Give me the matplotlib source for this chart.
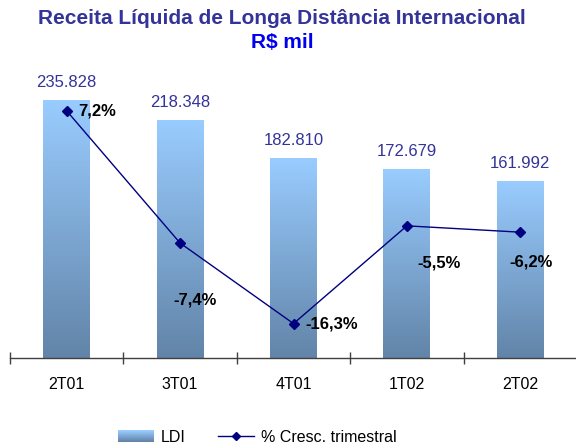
import matplotlib
matplotlib.use("Agg")
import matplotlib.pyplot as plt
import numpy as np
from matplotlib.colors import LinearSegmentedColormap
from matplotlib.legend_handler import HandlerBase
from matplotlib.patches import Rectangle
from matplotlib.lines import Line2D

plt.rcParams["font.family"] = ["Liberation Sans", "DejaVu Sans"]

quarters = ["2T01", "3T01", "4T01", "1T02", "2T02"]
receita = [235828, 218348, 182810, 172679, 161992]   # R$ mil
cresc = [7.2, -7.4, -16.3, -5.5, -6.2]               # % trimestral

TITLE_BLUE = "#333399"
LINE_BLUE = "#000080"
grad = LinearSegmentedColormap.from_list("ldi", ["#6284A8", "#99CCFF"])


class GradientHandler(HandlerBase):
    def create_artists(self, legend, orig_handle, xdescent, ydescent,
                       width, height, fontsize, trans):
        n = 12
        arts = []
        for k in range(n):
            arts.append(Rectangle((-xdescent, -ydescent + height * k / n),
                                  width, height / n + 0.01,
                                  facecolor=grad(k / (n - 1)), edgecolor="none",
                                  transform=trans))
        return arts


fig = plt.figure(figsize=(5.76, 4.46), dpi=100)
fig.patch.set_facecolor("white")
ax = fig.add_axes([10 / 576, 88 / 446, 567 / 576, 296 / 446])

x = np.arange(len(quarters))
bw = 0.414
bars = ax.bar(x, receita, width=bw, color="none", edgecolor="none")
g = np.linspace(0, 1, 256).reshape(-1, 1)
for b in bars:
    ax.imshow(g, extent=[b.get_x(), b.get_x() + b.get_width(), 0, b.get_height()],
              origin="lower", cmap=grad, aspect="auto", zorder=1)

for i, v in enumerate(receita):
    ax.annotate(f"{v:,}".replace(",", "."), xy=(i, v), xytext=(0, 18),
                textcoords="offset pixels", ha="center", va="center",
                fontsize=12, color=TITLE_BLUE)

ax.set_xlim(-0.5, len(quarters) - 0.5)
ax.set_ylim(0, 271600)
ax.set_yticks([])
for s in ["left", "right", "top"]:
    ax.spines[s].set_visible(False)
ax.spines["bottom"].set_color("#404040")
ax.spines["bottom"].set_linewidth(1)
ax.set_xticks(x)
ax.set_xticklabels(quarters, fontsize=11.5)
ax.tick_params(axis="x", which="major", length=0, pad=14)
ax.set_xticks(np.arange(len(quarters) + 1) - 0.5, minor=True)
ax.tick_params(axis="x", which="minor", direction="inout", length=8,
               width=1, color="#404040")

ax2 = ax.twinx()
ax2.plot(x, cresc, color=LINE_BLUE, linewidth=1, marker="D", markersize=5.5)
ax2.set_ylim(-20.1, 12.6)
ax2.set_yticks([])
ax2.axis("off")

offsets = [(12, 0, "left"), (15, -57, "center"), (12, 0, "left"),
           (32, -37, "center"), (11, -30, "center")]
for i, c in enumerate(cresc):
    dx, dy, ha = offsets[i]
    ax2.annotate(f"{c:.1f}%".replace(".", ","), xy=(i, c), xytext=(dx, dy),
                 textcoords="offset pixels", ha=ha, va="center",
                 fontsize=12, fontweight="bold", color="black")

fig.text(0.49, 1 - 18 / 446, "Receita Líquida de Longa Distância Internacional",
         ha="center", va="center", fontsize=15, fontweight="bold", color=TITLE_BLUE)
fig.text(0.49, 1 - 43 / 446, "R$ mil", ha="center", va="center",
         fontsize=15, fontweight="bold", color="#0000EE")

h_bar = Rectangle((0, 0), 1, 1)
h_line = Line2D([], [], color=LINE_BLUE, linewidth=1, marker="D", markersize=4.5)
fig.legend([h_bar, h_line], ["LDI", "% Cresc. trimestral"],
           handler_map={Rectangle: GradientHandler()},
           loc="center", bbox_to_anchor=(257 / 576, 1 - 437 / 446), ncol=2,
           frameon=False, fontsize=11.5, handlelength=2.3, handletextpad=0.4,
           columnspacing=2.0, borderpad=0)

fig.savefig("out.png", dpi=100, facecolor="white")
